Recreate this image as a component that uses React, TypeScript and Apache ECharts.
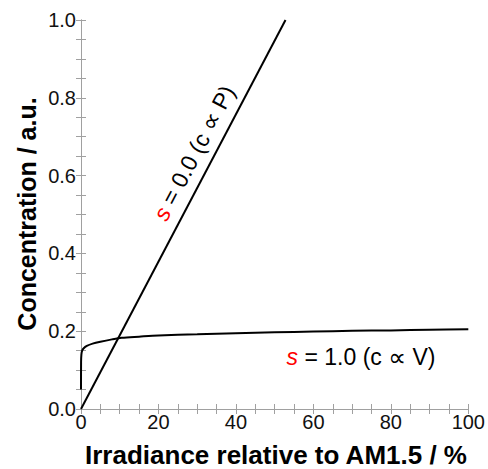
import React, { useEffect, useRef } from "react";
import * as echarts from "echarts";

const linearX = [0, 52.8];
const linearY = [0, 1.0];

const curveX = [0, 0.02, 0.1, 0.3, 0.7, 1.5, 3, 5, 8, 10.5, 15, 20, 30, 40, 50, 60, 70, 80, 90, 100];
const curveY = [0.05, 0.12, 0.14, 0.15, 0.156, 0.162, 0.168, 0.173, 0.179, 0.183, 0.186, 0.189, 0.192, 0.195, 0.197, 0.199, 0.201, 0.202, 0.204, 0.205];

const xTitle = "Irradiance relative to AM1.5 / %";
const yTitle = "Concentration / a.u.";
const label1 = "{s|s} = 0.0 (c {p|∝} P)";
const label2 = "{s|s} = 1.0 (c {p|∝} V)";

const FONT = "Liberation Sans, Arial, sans-serif";
const GRAY = "#a0a0a0";

export default function App() {
  const ref = useRef<HTMLDivElement>(null);
  useEffect(() => {
    if (!ref.current) return;
    const chart = echarts.init(ref.current, undefined, { renderer: "svg" });
    const tickCommon = {
      axisLine: { show: true, lineStyle: { color: GRAY, width: 1 } },
      axisTick: { show: true, inside: true, length: 5, lineStyle: { color: GRAY } },
      minorTick: { show: true, splitNumber: 4, length: 5, lineStyle: { color: GRAY } },
      splitLine: { show: false },
      minorSplitLine: { show: false },
    };
    const rich = {
      s: { fill: "#ff0000", fontStyle: "italic", fontSize: 23, fontFamily: FONT },
      p: { fill: "#000", fontSize: 25, fontFamily: "DejaVu Sans" },
    };
    chart.setOption({
      animation: false,
      grid: { left: 81, top: 20, right: 19, bottom: 60, containLabel: false },
      xAxis: [
        {
          type: "value", min: 0, max: 100, interval: 20, position: "bottom",
          ...tickCommon,
          axisLabel: { fontFamily: FONT, fontSize: 20, color: "#111", margin: 3 },
        },
        {
          type: "value", min: 0, max: 100, interval: 20, position: "top",
          ...tickCommon, axisLabel: { show: false },
        },
      ],
      yAxis: [
        {
          type: "value", min: 0, max: 1, interval: 0.2, position: "left",
          ...tickCommon,
          axisLabel: { fontFamily: FONT, fontSize: 20, color: "#111", margin: 5, formatter: (v: number) => v.toFixed(1) },
        },
        {
          type: "value", min: 0, max: 1, interval: 0.2, position: "right",
          ...tickCommon, axisLabel: { show: false },
        },
      ],
      series: [
        {
          type: "line", xAxisIndex: 0, yAxisIndex: 0, symbol: "none",
          lineStyle: { color: "#000", width: 2 },
          data: linearX.map((x, i) => [x, linearY[i]]),
        },
        {
          type: "line", xAxisIndex: 0, yAxisIndex: 0, symbol: "none", smooth: 0.3,
          lineStyle: { color: "#000", width: 2 },
          data: curveX.map((x, i) => [x, curveY[i]]),
        },
      ],
      graphic: [
        {
          type: "text", x: 276, y: 455,
          style: { text: xTitle, font: `bold 26px ${FONT}`, fill: "#000", align: "center", verticalAlign: "middle" },
        },
        {
          type: "text", x: 27, y: 214, rotation: Math.PI / 2,
          style: { text: yTitle, font: `bold 25px ${FONT}`, fill: "#000", align: "center", verticalAlign: "middle" },
        },
        {
          type: "text", x: 194, y: 153, rotation: 62.2 * Math.PI / 180,
          style: {
            text: label1, font: `23px ${FONT}`, fill: "#000", align: "center", verticalAlign: "middle",
            rich,
          },
        },
        {
          type: "text", x: 361, y: 357,
          style: {
            text: label2, font: `23px ${FONT}`, fill: "#000", align: "center", verticalAlign: "middle",
            rich,
          },
        },
      ],
    });
    return () => chart.dispose();
  }, []);
  return <div ref={ref} style={{ width: 488, height: 469, position: "absolute", left: 0, top: 0 }} />;
}
